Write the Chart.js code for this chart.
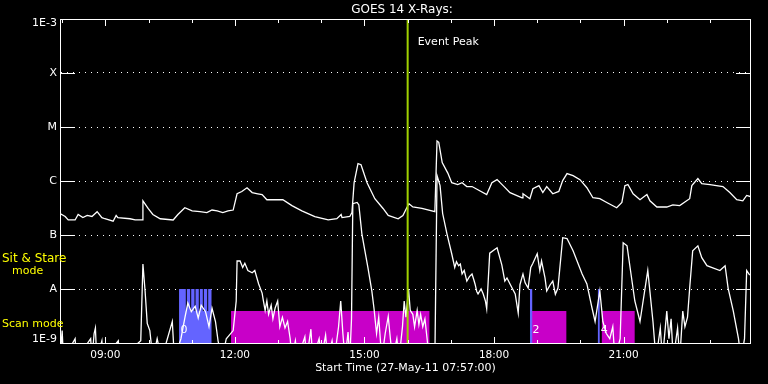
<!DOCTYPE html>
<html>
<head>
<meta charset="utf-8">
<title>GOES 14 X-Rays</title>
<script src="https://cdn.jsdelivr.net/npm/chart.js@4.4.1/dist/chart.umd.min.js"></script>
<style>
    html, body { margin: 0; padding: 0; background: #000; }
    canvas { display: block; }
</style>
</head>
<body>
<canvas id="goesChart" width="768" height="384"></canvas>
<script>
// times are decimal hours UT on 27-May-11, fluxes in W/m^2
const longTimes = [7.95, 8.07, 8.14, 8.30, 8.37, 8.48, 8.58, 8.69, 8.81, 8.92,
    8.99, 9.18, 9.25, 9.29, 9.57, 9.69, 9.85, 9.87, 9.99, 10.10,
    10.27, 10.57, 10.68, 10.84, 11.01, 11.19, 11.35, 11.47, 11.59, 11.72,
    11.84, 11.96, 12.05, 12.16, 12.28, 12.40, 12.53, 12.63, 12.74, 12.93,
    13.11, 13.32, 13.55, 13.85, 14.16, 14.36, 14.46, 14.48, 14.66, 14.71,
    14.76, 14.85, 14.92, 15.06, 15.24, 15.43, 15.55, 15.78, 15.89, 15.98,
    16.03, 16.12, 16.33, 16.63, 16.68, 16.72, 16.80, 16.93, 17.02, 17.16,
    17.26, 17.37, 17.49, 17.83, 17.95, 18.07, 18.21, 18.37, 18.65, 18.67,
    18.83, 18.90, 19.04, 19.13, 19.22, 19.36, 19.50, 19.59, 19.69, 19.83,
    19.99, 20.15, 20.29, 20.45, 20.61, 20.84, 20.96, 21.03, 21.10, 21.22,
    21.38, 21.54, 21.61, 21.77, 22.00, 22.14, 22.30, 22.46, 22.53, 22.58,
    22.72, 22.81, 23.00, 23.30, 23.46, 23.62, 23.76, 23.85, 23.95];
const longFlux = [2.5e-7, 2.2e-7, 1.9e-7, 1.9e-7, 2.4e-7, 2.1e-7, 2.3e-7, 2.2e-7, 2.7e-7, 2.1e-7,
    2.0e-7, 1.8e-7, 2.3e-7, 2.1e-7, 2.0e-7, 1.9e-7, 1.9e-7, 4.3e-7, 3.1e-7, 2.4e-7,
    2.0e-7, 1.9e-7, 2.4e-7, 3.2e-7, 2.8e-7, 2.7e-7, 2.6e-7, 2.9e-7, 2.8e-7, 2.6e-7,
    2.8e-7, 2.9e-7, 5.8e-7, 6.4e-7, 7.5e-7, 6.1e-7, 5.8e-7, 5.6e-7, 4.5e-7, 4.5e-7,
    4.5e-7, 3.5e-7, 2.8e-7, 2.2e-7, 1.9e-7, 2.0e-7, 2.4e-7, 2.1e-7, 2.2e-7, 2.6e-7,
    9.3e-7, 2.1e-6, 2.0e-6, 9.3e-7, 4.7e-7, 3.1e-7, 2.3e-7, 2.0e-7, 2.3e-7, 3.2e-7,
    3.8e-7, 3.3e-7, 3.1e-7, 2.7e-7, 5.5e-6, 5.2e-6, 2.2e-6, 1.4e-6, 9.3e-7, 8.6e-7,
    9.3e-7, 7.9e-7, 7.9e-7, 5.6e-7, 9.3e-7, 1.06e-6, 8.2e-7, 6.1e-7, 4.9e-7, 5.8e-7,
    4.7e-7, 7.2e-7, 8.2e-7, 6.1e-7, 7.9e-7, 5.8e-7, 6.4e-7, 1.02e-6, 1.37e-6, 1.26e-6,
    1.06e-6, 7.5e-7, 4.9e-7, 4.7e-7, 4.0e-7, 3.2e-7, 4.0e-7, 8.2e-7, 8.6e-7, 5.8e-7,
    4.5e-7, 5.6e-7, 4.3e-7, 3.3e-7, 3.3e-7, 3.6e-7, 3.5e-7, 4.3e-7, 4.7e-7, 8.2e-7,
    1.11e-6, 8.9e-7, 8.6e-7, 7.9e-7, 6.1e-7, 4.5e-7, 4.3e-7, 5.4e-7, 5.1e-7];

// 5e-10 = below the plot floor (drops to the axis)
const shortTimes = [7.95, 8.00, 8.03, 8.30, 8.33, 8.66, 8.69, 8.74, 8.77, 8.80,
    8.92, 8.95, 9.30, 9.33, 9.82, 9.87, 9.92, 9.97, 10.03, 10.10,
    10.20, 10.30, 10.55, 10.60, 10.75, 10.84, 10.91, 10.99, 11.08, 11.15,
    11.22, 11.32, 11.40, 11.47, 11.55, 11.61, 11.70, 11.80, 11.96, 12.03,
    12.05, 12.12, 12.18, 12.23, 12.30, 12.40, 12.46, 12.55, 12.63, 12.66,
    12.70, 12.74, 12.78, 12.84, 12.88, 12.93, 12.99, 13.04, 13.10, 13.16,
    13.22, 13.28, 13.32, 13.40, 13.45, 13.62, 13.66, 13.76, 13.80, 13.95,
    14.00, 14.10, 14.15, 14.25, 14.30, 14.40, 14.45, 14.50, 14.55, 14.62,
    14.66, 14.70, 14.73, 14.83, 14.87, 14.94, 15.01, 15.08, 15.17, 15.22,
    15.28, 15.33, 15.40, 15.48, 15.55, 15.60, 15.65, 15.75, 15.80, 15.88,
    15.92, 15.96, 16.02, 16.06, 16.12, 16.16, 16.22, 16.26, 16.30, 16.35,
    16.40, 16.45, 16.50, 16.63, 16.68, 16.75, 16.81, 16.91, 17.02, 17.09,
    17.13, 17.18, 17.22, 17.26, 17.31, 17.37, 17.43, 17.49, 17.53, 17.56,
    17.60, 17.63, 17.70, 17.75, 17.80, 17.83, 17.90, 18.07, 18.18, 18.25,
    18.30, 18.37, 18.43, 18.49, 18.56, 18.60, 18.67, 18.72, 18.79, 18.85,
    18.90, 19.00, 19.06, 19.10, 19.18, 19.22, 19.30, 19.36, 19.42, 19.48,
    19.59, 19.69, 19.83, 20.04, 20.15, 20.27, 20.34, 20.45, 20.52, 20.60,
    20.68, 20.75, 20.80, 20.92, 20.99, 21.08, 21.15, 21.26, 21.38, 21.56,
    21.68, 21.75, 21.85, 21.90, 22.00, 22.05, 22.10, 22.15, 22.25, 22.30,
    22.37, 22.42, 22.48, 22.53, 22.60, 22.72, 22.81, 22.93, 23.23, 23.35,
    23.42, 23.54, 23.66, 23.72, 23.80, 23.85, 23.92];
const shortFlux = [5e-10, 1.7e-9, 5e-10, 1.2e-9, 5e-10, 1.2e-9, 5e-10, 1.5e-9, 1.9e-9, 5e-10,
    1.1e-9, 5e-10, 1.1e-9, 5e-10, 1.1e-9, 2.9e-8, 9.2e-9, 2.3e-9, 1.7e-9, 5e-10,
    1.2e-9, 5e-10, 2.5e-9, 5e-10, 1.2e-9, 2.9e-9, 5.5e-9, 3.8e-9, 4.8e-9, 2.9e-9,
    5.0e-9, 3.8e-9, 2.0e-9, 4.4e-9, 2.5e-9, 1.1e-9, 5e-10, 1.2e-9, 1.7e-9, 6.0e-9,
    3.3e-8, 3.3e-8, 2.5e-8, 3.0e-8, 2.2e-8, 2.0e-8, 2.2e-8, 1.24e-8, 8.4e-9, 6.0e-9,
    4.0e-9, 6.0e-9, 3.4e-9, 5.0e-9, 2.8e-9, 4.4e-9, 6.0e-9, 2.0e-9, 3.0e-9, 1.9e-9,
    2.5e-9, 1.2e-9, 5e-10, 1.1e-9, 5e-10, 1.3e-9, 5e-10, 1.8e-9, 5e-10, 1.2e-9,
    5e-10, 1.4e-9, 5e-10, 1.1e-9, 5e-10, 2.0e-9, 6.0e-9, 1.5e-9, 5e-10, 1.6e-9,
    5e-10, 2.8e-9, 3.8e-7, 4.0e-7, 3.6e-7, 1.05e-7, 5.1e-8, 2.5e-8, 9.2e-9, 4.4e-9,
    1.5e-9, 3.0e-9, 5e-10, 1.5e-9, 3.1e-9, 1.2e-9, 5e-10, 1.2e-9, 5e-10, 2.0e-9,
    6.0e-9, 3.0e-9, 1.0e-8, 4.0e-9, 3.4e-9, 2.0e-9, 4.0e-9, 2.2e-9, 3.4e-9, 2.0e-9,
    2.8e-9, 1.2e-9, 5e-10, 5e-10, 1.26e-6, 8.2e-7, 2.5e-7, 1.05e-7, 4.5e-8, 2.5e-8,
    3.2e-8, 2.7e-8, 2.9e-8, 1.9e-8, 2.2e-8, 1.4e-8, 1.7e-8, 1.9e-8, 1.5e-8, 1.24e-8,
    9.0e-9, 8.1e-9, 1.0e-8, 8.1e-9, 6.0e-9, 4.3e-9, 4.6e-8, 5.8e-8, 2.8e-8, 1.4e-8,
    1.6e-8, 1.24e-8, 1.0e-8, 8.1e-9, 3.6e-9, 1.2e-8, 1.9e-8, 1.3e-8, 1.04e-8, 2.5e-8,
    3.0e-8, 4.5e-8, 2.2e-8, 3.3e-8, 1.6e-8, 9.2e-9, 1.2e-8, 1.4e-8, 8.0e-9, 1.04e-8,
    8.9e-8, 8.6e-8, 5.1e-8, 1.9e-8, 1.24e-8, 4.4e-9, 2.5e-9, 9.2e-9, 2.5e-9, 1.5e-9,
    1.2e-9, 2.0e-9, 5e-10, 1.2e-9, 7.2e-8, 6.3e-8, 2.5e-8, 6.0e-9, 2.5e-9, 2.2e-8,
    2.5e-9, 5e-10, 1.9e-9, 5e-10, 3.9e-9, 1.2e-9, 2.8e-9, 5e-10, 1.9e-9, 5e-10,
    3.9e-9, 2.0e-9, 3.0e-9, 1.04e-8, 5.1e-8, 6.3e-8, 3.8e-8, 2.7e-8, 2.2e-8, 2.7e-8,
    1.04e-8, 3.9e-9, 1.2e-9, 5e-10, 1.2e-9, 2.2e-8, 1.8e-8];

// RHESSI-style mode bars
const scanStart = [11.91, 18.87, 20.49];
const scanEnd = [16.51, 19.68, 21.26];
const stareStart = [10.706, 18.83, 20.40];
const stareEnd = [11.463, 18.89, 20.45];
const pointingBreaks = [10.875, 10.976, 11.076, 11.176, 11.269, 11.370];
const pointingLabels = ['0', '2', '4'];
const pointingTimes = [10.82, 18.97, 20.55];

const eventPeak = 16.0;
const tickHours = [9, 12, 15, 18, 21];
const classLevels = [1e-9, 1e-8, 1e-7, 1e-6, 1e-5, 1e-4, 1e-3];
const classLabels = ['1E-9', 'A', 'B', 'C', 'M', 'X', '1E-3'];

const scanTop = 3.9e-9;
const stareTop = 1e-8;
const FONT = '"DejaVu Sans", sans-serif';

const toPoints = (xs, ys) => xs.map((t, i) => ({ x: t, y: ys[i] }));

const datasets = [];
datasets.push({
    label: 'Event Peak',
    data: [{ x: eventPeak, y: 1e-3 }, { x: eventPeak, y: 1e-9 }],
    borderColor: '#a0d000',
    borderWidth: 2,
    pointRadius: 0,
    order: 0
});
datasets.push({
    label: '1.0-8.0 A',
    data: toPoints(longTimes, longFlux),
    borderColor: '#ffffff',
    borderWidth: 1.3,
    pointRadius: 0,
    order: 1
});
datasets.push({
    label: '0.5-4.0 A',
    data: toPoints(shortTimes, shortFlux),
    borderColor: '#ffffff',
    borderWidth: 1.3,
    pointRadius: 0,
    order: 1
});
pointingBreaks.forEach(t => {
    datasets.push({
        data: [{ x: t, y: scanTop }, { x: t, y: stareTop }],
        borderColor: '#000000',
        borderWidth: 1,
        pointRadius: 0,
        order: 2
    });
});
stareStart.forEach((s, i) => {
    datasets.push({
        data: [{ x: s, y: stareTop }, { x: stareEnd[i], y: stareTop }],
        borderColor: 'transparent',
        borderWidth: 0,
        backgroundColor: 'rgb(100, 100, 255)',
        fill: 'start',
        pointRadius: 0,
        order: 3
    });
});
scanStart.forEach((s, i) => {
    datasets.push({
        data: [{ x: s, y: scanTop }, { x: scanEnd[i], y: scanTop }],
        borderColor: 'transparent',
        borderWidth: 0,
        backgroundColor: 'rgb(200, 0, 200)',
        fill: 'start',
        pointRadius: 0,
        order: 3
    });
});

const goesFrame = {
    id: 'goesFrame',
    afterDatasetsDraw(chart) {
        const { ctx, chartArea: a, scales: { x, y } } = chart;
        ctx.save();
        ctx.strokeStyle = '#ffffff';
        ctx.lineWidth = 1;
        ctx.strokeRect(a.left + 0.5, a.top + 0.5, a.right - a.left - 1, a.bottom - a.top);

        ctx.beginPath();
        for (let h = 8; h <= 23; h++) {
            const px = Math.round(x.getPixelForValue(h)) + 0.5;
            const len = h % 3 === 0 ? 7 : 4;
            ctx.moveTo(px, a.top);
            ctx.lineTo(px, a.top + len);
            ctx.moveTo(px, a.bottom + 1);
            ctx.lineTo(px, a.bottom + 1 - len);
        }
        classLevels.slice(1, -1).forEach(v => {
            const py = Math.round(y.getPixelForValue(v)) + 0.5;
            ctx.moveTo(a.left, py);
            ctx.lineTo(a.left + 15, py);
            ctx.moveTo(a.right - 15, py);
            ctx.lineTo(a.right, py);
        });
        ctx.stroke();
        ctx.restore();
    },
    afterDraw(chart) {
        const { ctx, chartArea: a, scales: { x, y } } = chart;
        ctx.save();
        ctx.fillStyle = '#ffffff';
        ctx.textBaseline = 'middle';

        ctx.font = '12px ' + FONT;
        ctx.textAlign = 'center';
        ctx.fillText('GOES 14 X-Rays:', 402, 9.5);

        ctx.font = '11px ' + FONT;
        ctx.textAlign = 'right';
        classLevels.forEach((v, i) => {
            let py = y.getPixelForValue(v);
            if (i === 0) py -= 3.5;
            if (i === classLevels.length - 1) py += 4;
            ctx.fillText(classLabels[i], 57, py);
        });

        ctx.font = '10.5px ' + FONT;
        ctx.textAlign = 'center';
        tickHours.forEach(h => {
            ctx.fillText(String(h).padStart(2, '0') + ':00', x.getPixelForValue(h), 355.5);
        });

        ctx.font = '11px ' + FONT;
        ctx.fillText('Start Time (27-May-11 07:57:00)', (a.left + a.right) / 2, 368);

        ctx.textAlign = 'left';
        ctx.fillText('Event Peak', x.getPixelForValue(eventPeak) + 10, 42.5);

        ctx.textAlign = 'center';
        pointingLabels.forEach((s, i) => {
            ctx.fillText(s, x.getPixelForValue(pointingTimes[i]), y.getPixelForValue(1.7e-9));
        });

        ctx.fillStyle = '#ffff00';
        ctx.textAlign = 'left';
        ctx.font = '12px ' + FONT;
        ctx.fillText('Sit & Stare', 2, 259);
        ctx.font = '11px ' + FONT;
        ctx.fillText('mode', 12, 271);
        ctx.fillText('Scan mode', 2, 324);
        ctx.restore();
    }
};

const ctx = document.getElementById('goesChart').getContext('2d');
new Chart(ctx, {
    type: 'line',
    data: { datasets: datasets },
    options: {
        responsive: false,
        animation: false,
        layout: {
            padding: { top: 19, right: 17, left: 0, bottom: 0 }
        },
        plugins: {
            legend: { display: false },
            tooltip: { enabled: false }
        },
        scales: {
            x: {
                type: 'linear',
                min: 7.95,
                max: 23.95,
                grid: { display: false },
                border: { display: false },
                ticks: { display: false },
                afterFit: s => { s.height = 41; }
            },
            y: {
                type: 'logarithmic',
                min: 1e-9,
                max: 1e-3,
                afterBuildTicks: s => { s.ticks = classLevels.map(v => ({ value: v })); },
                afterFit: s => { s.width = 60; },
                ticks: { display: false },
                // dotted class lines like the IDL plot
                border: { display: false, dash: [1, 5], dashOffset: 5 },
                grid: {
                    drawTicks: false,
                    lineWidth: 1,
                    color: c => (c.tick && c.tick.value > 1e-9 && c.tick.value < 1e-3) ? '#ffffff' : 'transparent'
                }
            }
        }
    },
    plugins: [goesFrame]
});
</script>
</body>
</html>
